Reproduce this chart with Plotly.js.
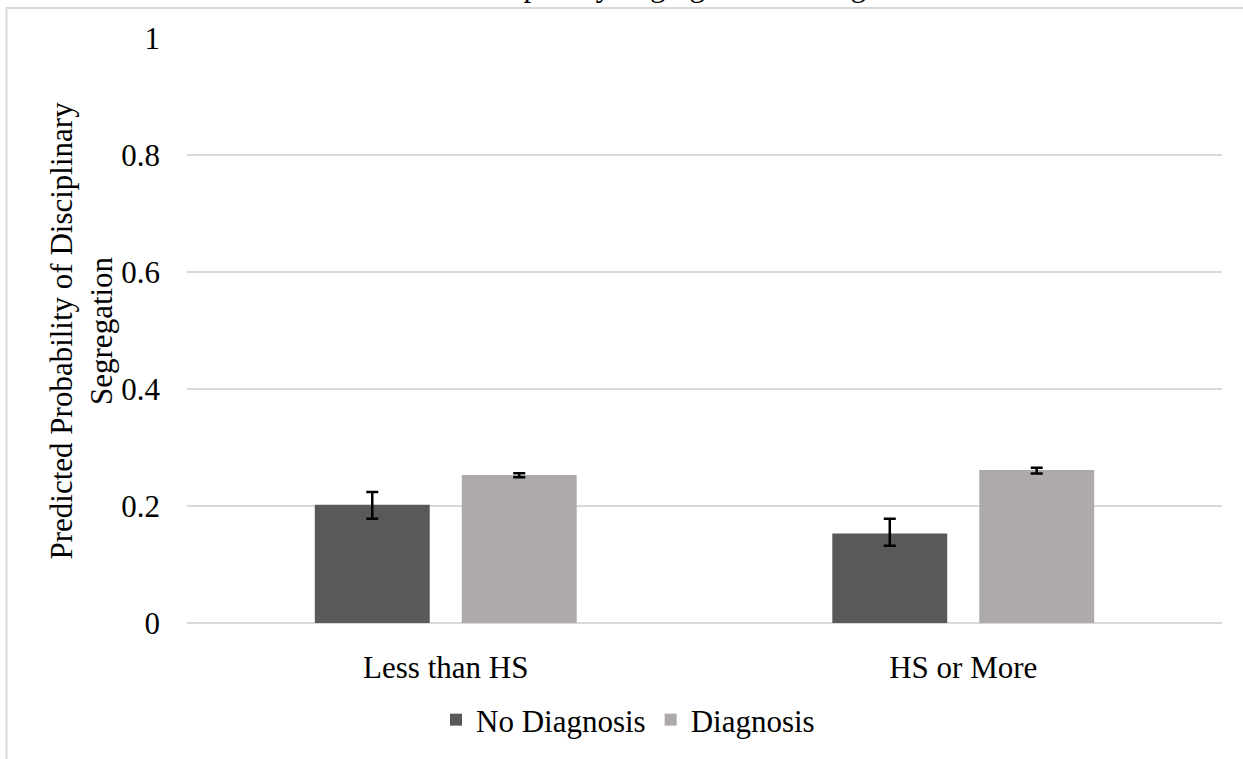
<!DOCTYPE html>
<html>
<head>
<meta charset="utf-8">
<script src="https://cdn.plot.ly/plotly-3.0.1.min.js"></script>
<style>html,body{margin:0;padding:0;background:#fff;}#chart{width:1243px;height:759px;}</style>
</head>
<body>
<div id="chart"></div>
<script>
const categories = ['Less than HS', 'HS or More'];
const seriesNames = ['No Diagnosis', 'Diagnosis'];
const noDiagnosis = [0.202, 0.153];
const noDiagnosisErrPlus = [0.022, 0.025];
const noDiagnosisErrMinus = [0.024, 0.021];
const diagnosis = [0.253, 0.2615];
const diagnosisErrPlus = [0.003, 0.004];
const diagnosisErrMinus = [0.004, 0.006];
const yTicks = [0, 0.2, 0.4, 0.6, 0.8, 1];
const yTickText = ['0', '0.2', '0.4', '0.6', '0.8', '1'];
const titleText = 'Disciplinary Segregation Among';
const yTitleText = 'Predicted Probability of Disciplinary<br>Segregation';

const font = {family: '"Liberation Serif", "Times New Roman", serif', size: 31, color: '#000'};

const traces = [
  {
    type: 'bar', name: seriesNames[0], x: categories, y: noDiagnosis,
    marker: {color: '#595959'},
    error_y: {type: 'data', symmetric: false, array: noDiagnosisErrPlus, arrayminus: noDiagnosisErrMinus,
              color: '#000', thickness: 2.5, width: 6}
  },
  {
    type: 'bar', name: seriesNames[1], x: categories, y: diagnosis,
    marker: {color: '#AEAAAA'},
    error_y: {type: 'data', symmetric: false, array: diagnosisErrPlus, arrayminus: diagnosisErrMinus,
              color: '#000', thickness: 2.5, width: 6}
  }
];

const L = 187, R = 21, T = 38, B = 136;
const W = 1243, H = 759;
const pw = W - L - R, ph = H - T - B;
const px2x = p => (p - L) / pw;
const py2y = p => (H - B - p) / ph;

const layout = {
  width: W, height: H,
  margin: {l: L, r: R, t: T, b: B, pad: 0},
  paper_bgcolor: '#fff', plot_bgcolor: '#fff',
  font: font,
  barmode: 'group', bargap: 0.432, bargroupgap: 0.218,
  showlegend: true,
  legend: {orientation: 'h', x: px2x(628), xanchor: 'center', y: py2y(720), yanchor: 'middle',
           font: font, itemwidth: 30, traceorder: 'normal'},
  xaxis: {type: 'category', showgrid: false, showline: false, zeroline: false, ticks: '',
          tickfont: font, ticklabelstandoff: 23, fixedrange: true},
  yaxis: {range: [0, 1], tickvals: yTicks, ticktext: yTickText, showgrid: true, gridcolor: '#D9D9D9', gridwidth: 2,
          zeroline: true, zerolinecolor: '#D9D9D9', zerolinewidth: 2, showline: false, ticks: '',
          tickfont: font, ticklabelstandoff: 26, fixedrange: true},
  annotations: [
    {text: titleText, xref: 'paper', yref: 'paper', x: px2x(662), y: py2y(-15), xanchor: 'center', yanchor: 'middle',
     showarrow: false, font: font},
    {text: yTitleText, xref: 'paper', yref: 'paper', x: px2x(81), y: 0.5, xanchor: 'center', yanchor: 'middle',
     textangle: -90, showarrow: false, font: font}
  ],
  shapes: [
    {type: 'rect', xref: 'paper', yref: 'paper', x0: px2x(6.5), x1: px2x(1300), y0: py2y(820), y1: py2y(8),
     line: {color: '#D9D9D9', width: 2}, fillcolor: 'rgba(0,0,0,0)', layer: 'below'}
  ]
};

Plotly.newPlot('chart', traces, layout, {displayModeBar: false, staticPlot: true});
</script>
</body>
</html>
